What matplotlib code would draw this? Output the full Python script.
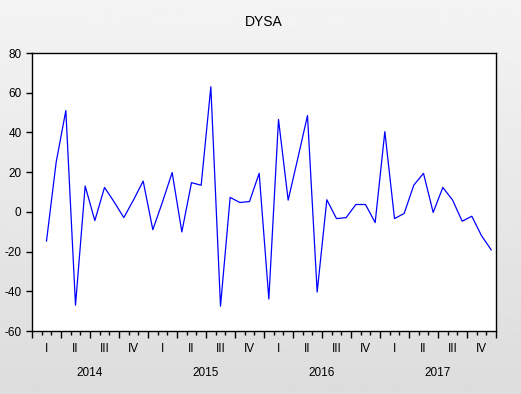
import numpy as np
import matplotlib
matplotlib.use("Agg")
import matplotlib.pyplot as plt
import matplotlib.transforms as mtransforms

plt.rcParams['font.family'] = ['Liberation Sans', 'DejaVu Sans']

# monthly DYSA, Feb 2014 .. Dec 2017 (first month lost to differencing)
dysa = [-14.7, 25.0, 51.0, -47.0, 13.0, -4.4, 12.3, 5.0, -2.9, 6.0, 15.5, -9.0,
        5.0, 19.8, -10.1, 14.7, 13.4, 63.0, -47.5, 7.3, 4.7, 5.2, 19.4, -43.9,
        46.5, 5.9, 27.0, 48.5, -40.4, 6.1, -3.4, -2.9, 3.7, 3.7, -5.4, 40.4,
        -3.4, -0.8, 13.5, 19.4, -0.3, 12.3, 6.0, -4.7, -2.2, -12.0, -19.1]
years = ['2014', '2015', '2016', '2017']
quarters = ['I', 'II', 'III', 'IV']
yticks = [-60, -40, -20, 0, 20, 40, 60, 80]

W, H = 521, 394
fig = plt.figure(figsize=(W / 100, H / 100), dpi=100)

# grey gradient behind everything
bg = fig.add_axes([0, 0, 1, 1], zorder=-10)
grad = np.linspace(0.955, 0.865, 256).reshape(-1, 1)
bg.imshow(grad, aspect='auto', cmap='gray', vmin=0, vmax=1, extent=[0, 1, 0, 1])
bg.axis('off')

ax = fig.add_axes([32 / W, 1 - 331 / H, 464 / W, 278 / H])
ax.set_facecolor('white')

x = np.arange(1, len(dysa) + 1) + 0.5
ax.plot(x, dysa, color='#0000ff', lw=0.9)

ax.set_xlim(0, 48)
ax.set_ylim(-60, 80)
ax.set_yticks(yticks)
ax.set_yticklabels([str(v) for v in yticks], fontsize=8.5)
ax.tick_params(axis='y', direction='out', length=4.5, width=1, pad=3)

ax.set_xticks(range(0, 49, 3))
ax.set_xticklabels([])
ax.set_xticks(range(0, 49), minor=True)
ax.tick_params(axis='x', which='major', direction='out', length=4.8, width=1)
ax.tick_params(axis='x', which='minor', direction='out', length=3.1, width=1)

for s in ax.spines.values():
    s.set_linewidth(1.0)
    s.set_color('black')

trans = mtransforms.blended_transform_factory(ax.transData, ax.transAxes)
for yi, yr in enumerate(years):
    for qi, q in enumerate(quarters):
        ax.text(yi * 12 + qi * 3 + 1.5, -18 / 278, q, transform=trans,
                ha='center', va='center', fontsize=8.5)
    ax.text(yi * 12 + 6, -42 / 278, yr, transform=trans,
            ha='center', va='center', fontsize=8.5)

fig.text(264 / W, 1 - 22 / H, 'DYSA', ha='center', va='center', fontsize=10)

fig.savefig('out.png', dpi=100)
